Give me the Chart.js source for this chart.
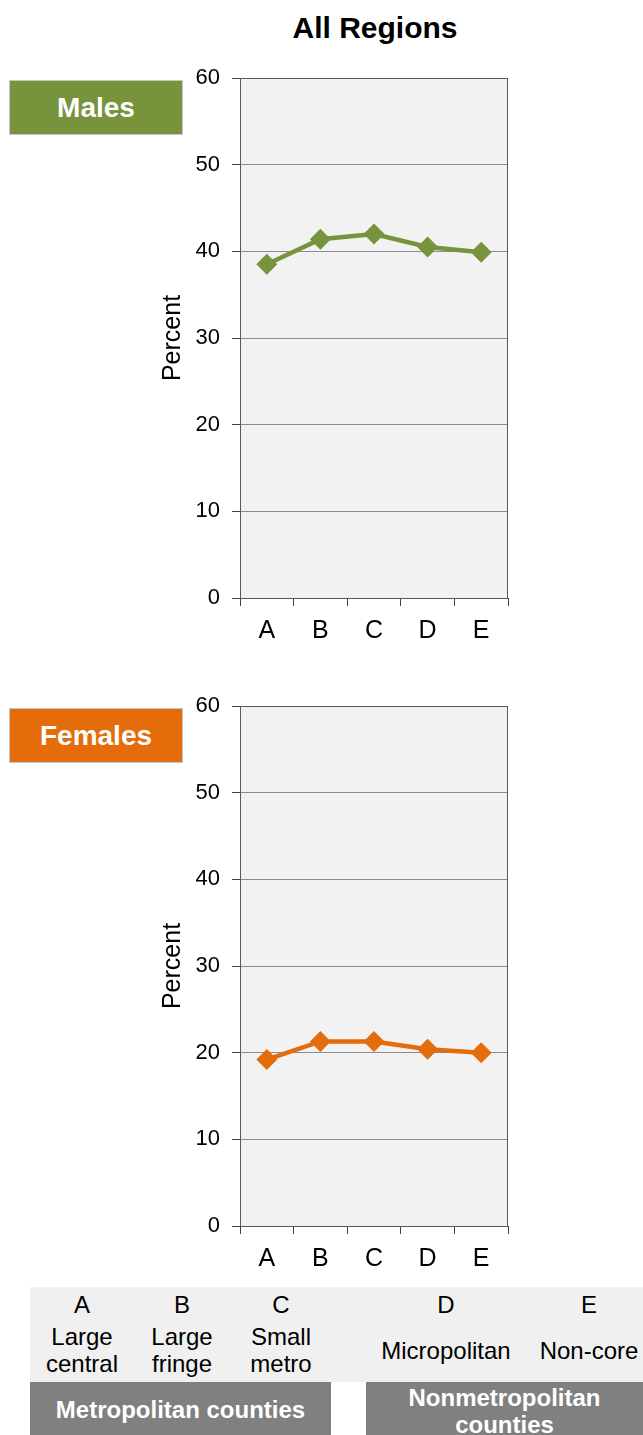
<!DOCTYPE html>
<html>
<head>
<meta charset="utf-8">
<script src="https://cdn.jsdelivr.net/npm/chart.js@4"></script>
<style>
  body { margin: 0; background: #fff; font-family: "Liberation Sans", Arial, sans-serif; }
  #page { position: relative; width: 643px; height: 1435px; overflow: hidden; }
  .abs { position: absolute; }
  #title { left: 0; width: 750px; top: 11px; text-align: center; font-weight: bold; font-size: 30px; color: #000; }
  .tag { left: 9px; width: 172px; height: 53px; line-height: 53px; text-align: center; color: #fff;
         font-weight: bold; font-size: 28px; border: 1px solid #c8c8c8; }
  #males { top: 80px; background: #77933c; }
  #females { top: 708px; background: #e46c0a; }
  canvas { position: absolute; left: 0; }
  #legendBg { left: 30px; top: 1287px; width: 613px; height: 95px; background: #f0f0f0; }
  .cell { text-align: center; font-size: 24px; color: #000; line-height: 27px; }
  .grp { top: 1382px; height: 53px; background: #808080; color: #fff; font-weight: bold;
         font-size: 24px; text-align: center; line-height: 27px; }
</style>
</head>
<body>
<div id="page">
  <div id="title" class="abs">All Regions</div>
  <div id="males" class="abs tag">Males</div>
  <div id="females" class="abs tag">Females</div>
  <canvas id="c-males" width="643" height="598" style="top:50px"></canvas>
  <canvas id="c-females" width="643" height="598" style="top:678px"></canvas>
  <div id="legendBg" class="abs"></div>
  <div id="legendCells"></div>
  <div class="abs grp" style="left:30px;width:301px;padding-top:14px;height:39px;">Metropolitan counties</div>
  <div class="abs grp" style="left:366px;width:277px;padding-top:2px;height:51px;">Nonmetropolitan<br>counties</div>
</div>
<script>
var categories = ["A", "B", "C", "D", "E"];
var categoryNames = [["Large", "central"], ["Large", "fringe"], ["Small", "metro"], ["Micropolitan"], ["Non-core"]];
var malesPct = [38.5, 41.4, 42.0, 40.5, 39.9];
var femalesPct = [19.2, 21.3, 21.3, 20.4, 20.0];
var yMin = 0, yMax = 60, yStep = 10;

// legend table under the charts
var cellX = [82, 182, 281, 446, 589];
var cells = document.getElementById("legendCells");
categories.forEach(function (c, i) {
  var d = document.createElement("div");
  d.className = "abs cell";
  d.style.left = (cellX[i] - 70) + "px";
  d.style.width = "140px";
  d.style.top = "1291px";
  d.textContent = c;
  cells.appendChild(d);
  var n = document.createElement("div");
  n.className = "abs cell";
  n.style.left = (cellX[i] - 70) + "px";
  n.style.width = "140px";
  n.style.top = (categoryNames[i].length > 1 ? 1323 : 1337) + "px";
  n.innerHTML = categoryNames[i].join("<br>");
  cells.appendChild(n);
});

var plotBg = {
  id: "plotBg",
  beforeDraw: function (chart) {
    var a = chart.chartArea, ctx = chart.ctx;
    ctx.save();
    ctx.fillStyle = "#f2f2f2";
    ctx.fillRect(a.left, a.top, a.right - a.left, a.bottom - a.top);
    ctx.restore();
  },
  beforeDatasetsDraw: function (chart) {
    var a = chart.chartArea, ctx = chart.ctx;
    ctx.save();
    ctx.strokeStyle = "#595959";
    ctx.lineWidth = 1;
    ctx.strokeRect(a.left + 0.5, a.top + 0.5, a.right - a.left - 1, a.bottom - a.top);
    ctx.restore();
  }
};

function makeChart(id, values, color) {
  var ctx = document.getElementById(id).getContext("2d");
  return new Chart(ctx, {
    type: "line",
    data: {
      labels: categories,
      datasets: [{
        data: values,
        borderColor: color,
        backgroundColor: color,
        borderWidth: 4.5,
        pointStyle: "rectRot",
        pointRadius: 10.5,
        pointBorderWidth: 0,
        tension: 0
      }]
    },
    options: {
      responsive: false,
      animation: false,
      layout: { padding: { left: 150, right: 135, top: 28, bottom: 0 } },
      plugins: { legend: { display: false }, tooltip: { enabled: false } },
      scales: {
        x: {
          offset: true,
          afterFit: function (s) { s.height = 50; },
          grid: { offset: true, drawOnChartArea: false, drawTicks: true, tickLength: 8, tickColor: "#404040" },
          border: { color: "#404040" },
          ticks: { color: "#000", padding: 10, font: { family: "Liberation Sans", size: 25 } }
        },
        y: {
          min: yMin,
          max: yMax,
          afterFit: function (s) { s.width = 90; },
          grid: { color: "#8c8c8c", tickLength: 8, tickColor: "#404040" },
          border: { color: "#404040" },
          ticks: { stepSize: yStep, color: "#000", padding: 12, font: { family: "Liberation Sans", size: 22 } },
          title: { display: true, text: "Percent", color: "#000", padding: { top: 8, bottom: 0 },
                   font: { family: "Liberation Sans", size: 25 } }
        }
      }
    },
    plugins: [plotBg]
  });
}

makeChart("c-males", malesPct, "#77933c");
makeChart("c-females", femalesPct, "#e46c0a");
</script>
</body>
</html>
